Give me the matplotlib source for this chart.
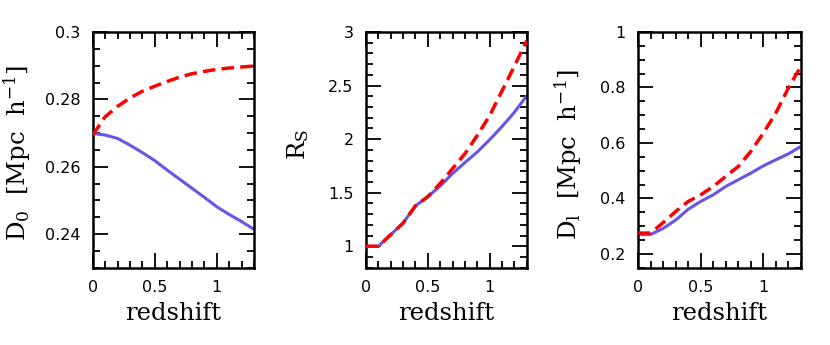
import numpy as np
import matplotlib
matplotlib.use("Agg")
import matplotlib.pyplot as plt
from matplotlib.ticker import MultipleLocator

z = [0.0, 0.1, 0.2, 0.3, 0.4, 0.5, 0.6, 0.7, 0.8, 0.9, 1.0, 1.1, 1.2, 1.3]

d0_blue = [0.2699, 0.2694, 0.2684, 0.2664, 0.2642, 0.2618, 0.2590, 0.2563,
           0.2536, 0.2509, 0.2481, 0.2458, 0.2437, 0.2414]
d0_red = [0.2694, 0.2748, 0.2779, 0.2804, 0.2824, 0.2839, 0.2853, 0.2866,
          0.2876, 0.2883, 0.2889, 0.2893, 0.2896, 0.2899]

rs_blue = [1.0, 1.0, 1.108, 1.216, 1.377, 1.463, 1.562, 1.679, 1.781, 1.880,
           1.994, 2.117, 2.250, 2.404]
rs_red = [1.0, 1.0, 1.108, 1.216, 1.377, 1.463, 1.586, 1.725, 1.864, 2.034,
          2.219, 2.450, 2.680, 2.920]

dl_blue = [0.270, 0.270, 0.292, 0.322, 0.361, 0.389, 0.413, 0.443, 0.467,
           0.491, 0.517, 0.539, 0.560, 0.587]
dl_red = [0.275, 0.275, 0.313, 0.353, 0.389, 0.413, 0.443, 0.479, 0.515,
          0.569, 0.635, 0.707, 0.797, 0.875]

xlabel = "redshift"
ylabels = [r"D$_0$  [Mpc  h$^{-1}$]", r"R$_{\rm S}$", r"D$_{\rm l}$  [Mpc  h$^{-1}$]"]

BLUE = "#6655e6"
RED = "#ff0000"

plt.rcParams["mathtext.fontset"] = "dejavuserif"

fig = plt.figure(figsize=(8.3, 3.45), dpi=100)

W, H = 830, 345
panels = [
    dict(l=92.7, r=254, ylim=(0.23, 0.30), yt=[0.24, 0.26, 0.28, 0.30], ytl=["0.24", "0.26", "0.28", "0.3"], ymin=0.005,
         blue=d0_blue, red=d0_red, lab=ylabels[0], labx=17, laby=153),
    dict(l=366, r=526.7, ylim=(0.8, 3.0), yt=[1, 1.5, 2, 2.5, 3], ytl=["1", "1.5", "2", "2.5", "3"], ymin=0.1,
         blue=rs_blue, red=rs_red, lab=ylabels[1], labx=298, laby=145),
    dict(l=638.3, r=800.7, ylim=(0.15, 1.0), yt=[0.2, 0.4, 0.6, 0.8, 1.0], ytl=["0.2", "0.4", "0.6", "0.8", "1"], ymin=0.05,
         blue=dl_blue, red=dl_red, lab=ylabels[2], labx=568, laby=155),
]
top, bot = 32, 267.7

for p in panels:
    ax = fig.add_axes([p["l"] / W, 1 - bot / H, (p["r"] - p["l"]) / W, (bot - top) / H])
    ax.plot(z, p["blue"], color=BLUE, lw=2.2, solid_capstyle="butt", zorder=2)
    ax.plot(z, p["red"], color=RED, lw=2.5, dashes=(3.6, 1.8), zorder=3)
    ax.set_xlim(0, 1.3)
    ax.set_ylim(*p["ylim"])
    ax.set_xticks([0, 0.5, 1])
    ax.set_xticklabels(["0", "0.5", "1"])
    ax.set_yticks(p["yt"])
    ax.set_yticklabels(p["ytl"])
    ax.xaxis.set_minor_locator(MultipleLocator(0.1))
    ax.yaxis.set_minor_locator(MultipleLocator(p["ymin"]))
    ax.tick_params(which="both", direction="in", top=True, right=True, width=1.3, color="black")
    ax.tick_params(which="major", length=11, pad=9)
    ax.tick_params(which="minor", length=5)
    for lbl in ax.get_xticklabels() + ax.get_yticklabels():
        lbl.set_fontfamily("DejaVu Sans")
        lbl.set_fontsize(11.5)
    for s in ax.spines.values():
        s.set_linewidth(1.8)
    ax.set_xlabel(xlabel, family="DejaVu Serif", fontsize=17.5, labelpad=5)
    fig.text(p["labx"] / W, 1 - p["laby"] / H, p["lab"], rotation=90, ha="center", va="center",
             family="DejaVu Serif", fontsize=17.5)

fig.savefig("out.png", dpi=100)
